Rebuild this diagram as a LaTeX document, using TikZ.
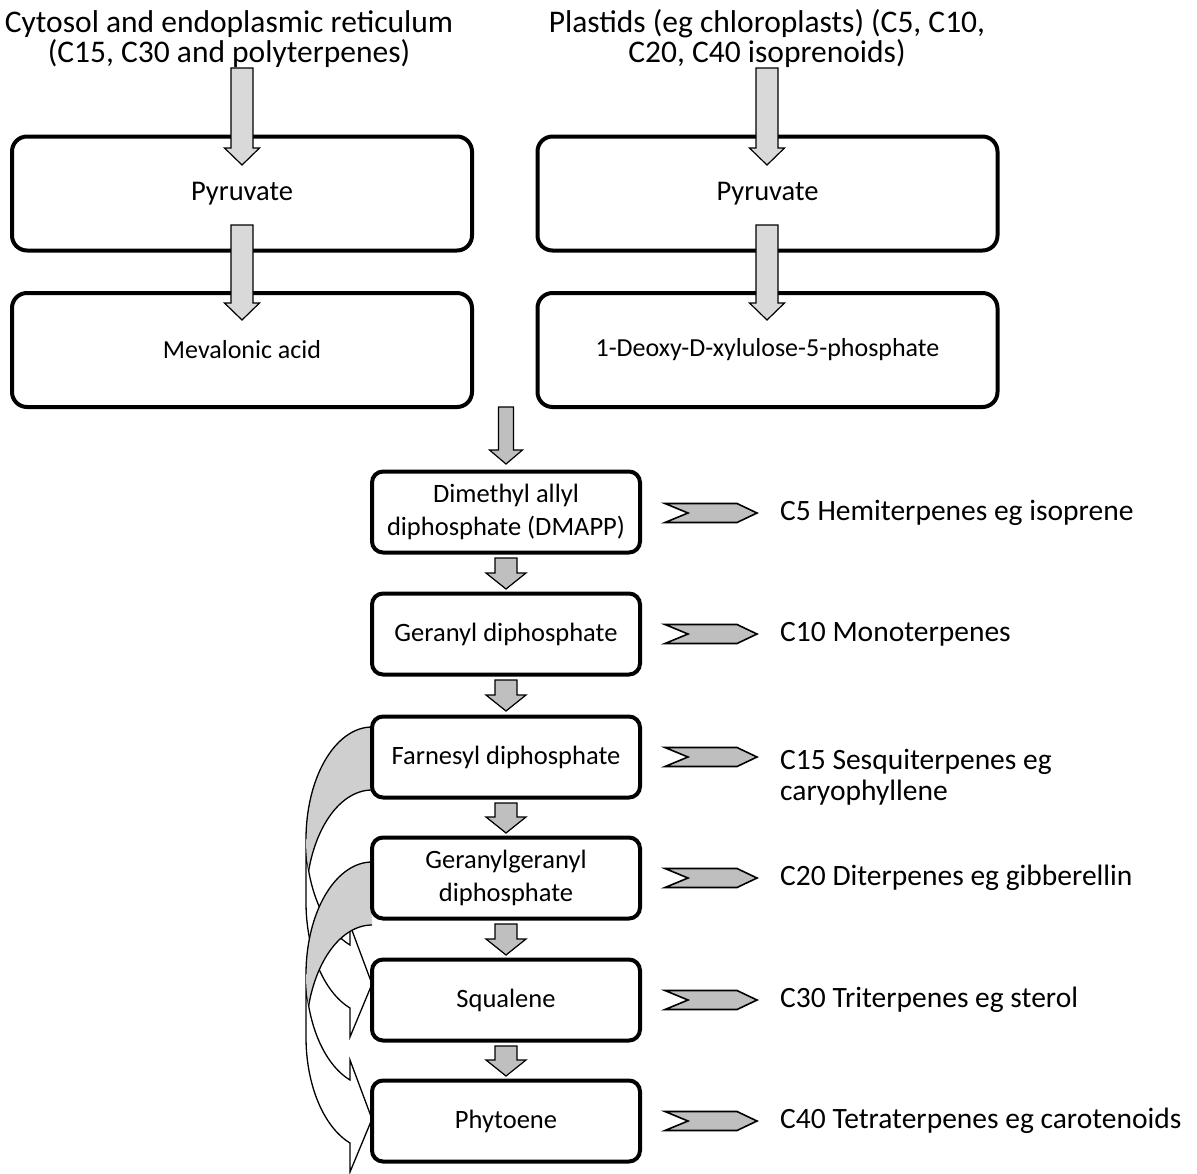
\documentclass[tikz,border=0pt]{standalone}
\usepackage{fontspec}
\setmainfont{Carlito}
\definecolor{lightarrow}{HTML}{D9D9D9}
\definecolor{midarrow}{HTML}{BFBFBF}
\definecolor{backgray}{HTML}{CFCFCF}
\tikzset{
  bigbox/.style={draw=black, line width=4pt, rounded corners=15pt, fill=white,
    minimum width=460pt, minimum height=114pt, inner sep=0pt,
    font=\fontsize{28.5}{32}\selectfont},
  lowbox/.style={bigbox, font=\fontsize{26}{30}\selectfont},
  midbox/.style={draw=black, line width=4pt, rounded corners=11pt, fill=white,
    minimum width=268pt, minimum height=81pt, inner sep=0pt, align=center,
    font=\fontsize{26.5}{33}\selectfont},
  title/.style={align=center, inner sep=0pt, font=\fontsize{31.5}{30}\selectfont},
  label/.style={anchor=west, align=left, inner sep=0pt, font=\fontsize{29.5}{31}\selectfont},
  lightblock/.style={draw=black, line width=1.2pt, fill=lightarrow, line join=miter},
  midblock/.style={draw=black, line width=1.2pt, fill=midarrow, line join=miter},
  chevron/.style={draw=black, line width=1.6pt, fill=midarrow, line join=miter},
}
% down block arrow: #1 cx, #2 top, #3 tip, #4 half shaft, #5 half head, #6 head length, #7 style
\newcommand\dnblock[7]{%
  \draw[#7] ({#1-#4},#2) -- ({#1+#4},#2) -- ({#1+#4},{#3-#6}) -- ({#1+#5},{#3-#6})
    -- (#1,#3) -- ({#1-#5},{#3-#6}) -- ({#1-#4},{#3-#6}) -- cycle;}
% chevron centred at height #1
\newcommand\chevronat[1]{%
  \draw[chevron] (665,{#1-9.5}) -- (737,{#1-9.5}) -- (757,#1) -- (737,{#1+9.5})
    -- (665,{#1+9.5}) -- (688,#1) -- cycle;}
% curved right arrow: #1 r (x of tail/tip), #2 Y0 (top of tail)
\newcommand\curvedarrow[2]{%
  \pgfmathsetmacro\cyA{#2+112.2}%
  \pgfmathsetmacro\cyB{#2+175.2}%
  \pgfmathsetmacro\xh{#1-22}%
  \pgfmathsetmacro\yfour{#2+198}%
  \pgfmathsetmacro\yfive{#2+218}%
  \pgfmathsetmacro\ysix{#2+257}%
  \pgfmathsetmacro\yseven{#2+281}%
  \pgfmathsetmacro\yeight{#2+310}%
  % front band (white)
  \draw[fill=white, line width=1.3pt, line join=miter]
    plot[domain=180:109.47, samples=40, smooth] ({#1+66*cos(\x)},{\cyA+112.2*sin(\x)})
    -- (\xh,\yfour) -- (#1,\ysix) -- (\xh,\yeight) -- (\xh,\yseven)
    -- plot[domain=109.47:180, samples=40, smooth] ({#1+66*cos(\x)},{\cyB+112.2*sin(\x)})
    -- cycle;
  % back crescent (gray)
  \fill[backgray]
    plot[domain=270:196.3, samples=40, smooth] ({#1+66*cos(\x)},{\cyB+112.2*sin(\x)})
    -- plot[domain=163.7:270, samples=40, smooth] ({#1+66*cos(\x)},{\cyA+112.2*sin(\x)})
    -- cycle;
  % outlines of the back part
  \draw[line width=1.3pt]
    plot[domain=180:270, samples=40, smooth] ({#1+66*cos(\x)},{\cyA+112.2*sin(\x)});
  \draw[line width=1.3pt]
    plot[domain=270:196.3, samples=40, smooth] ({#1+66*cos(\x)},{\cyB+112.2*sin(\x)});
}
\begin{document}
\begin{tikzpicture}[x=1pt, y=-1pt]
\useasboundingbox[fill=white] (0,0) rectangle (1197,1173);

% titles
\node[title] (tL) at (229,39) {Cytosol and endoplasmic reticulum\\(C15, C30 and polyterpenes)};
\node[title] (tR) at (767,39) {Plastids (eg chloroplasts) (C5, C10,\\C20, C40 isoprenoids)};

% curved arrows (behind boxes)
\curvedarrow{372}{727}
\curvedarrow{372}{862}

% top boxes
\node[bigbox] (pyrL) at (242,193.5) {Pyruvate};
\node[bigbox] (pyrR) at (767.5,193.5) {Pyruvate};
\node[lowbox] (mev) at (242,350) {Mevalonic acid};
\node[lowbox] (dxp) at (767.5,350) {1-Deoxy-D-xylulose-5-phosphate};

% light block arrows
\dnblock{242}{68}{165}{11}{17.5}{17}{lightblock}
\dnblock{767}{68}{165}{11}{17.5}{17}{lightblock}
\dnblock{242}{225}{320}{11}{17.5}{17}{lightblock}
\dnblock{767}{225}{320}{11}{17.5}{17}{lightblock}

% central arrow
\dnblock{506}{407}{464}{7.5}{16.5}{14}{midblock}

% central column
\node[midbox] (dmapp) at (506,512) {Dimethyl allyl\\diphosphate (DMAPP)};
\node[midbox] (ger) at (506,634) {Geranyl diphosphate};
\node[midbox] (far) at (506,757) {Farnesyl diphosphate};
\node[midbox] (gg) at (506,878) {Geranylgeranyl\\diphosphate};
\node[midbox] (squ) at (506,1000) {Squalene};
\node[midbox] (phy) at (506,1121) {Phytoene};

% small arrows between central boxes
\dnblock{506}{558}{589}{11}{20}{16}{midblock}
\dnblock{506}{680}{711}{11}{20}{16}{midblock}
\dnblock{506}{803}{833}{11}{20}{16}{midblock}
\dnblock{506}{924}{955}{11}{20}{16}{midblock}
\dnblock{506}{1046}{1076}{11}{20}{16}{midblock}

% chevrons
\chevronat{513}
\chevronat{634}
\chevronat{757}
\chevronat{878}
\chevronat{1000}
\chevronat{1121}

% labels
\node[label] (l5) at (780,513) {C5 Hemiterpenes eg isoprene};
\node[label] (l10) at (780,634) {C10 Monoterpenes};
\node[label, anchor=north west] (l15) at (780,749) {C15 Sesquiterpenes eg\\caryophyllene};
\node[label] (l20) at (780,878) {C20 Diterpenes eg gibberellin};
\node[label] (l30) at (780,1000) {C30 Triterpenes eg sterol};
\node[label] (l40) at (780,1121) {C40 Tetraterpenes eg carotenoids};
\end{tikzpicture}
\end{document}
